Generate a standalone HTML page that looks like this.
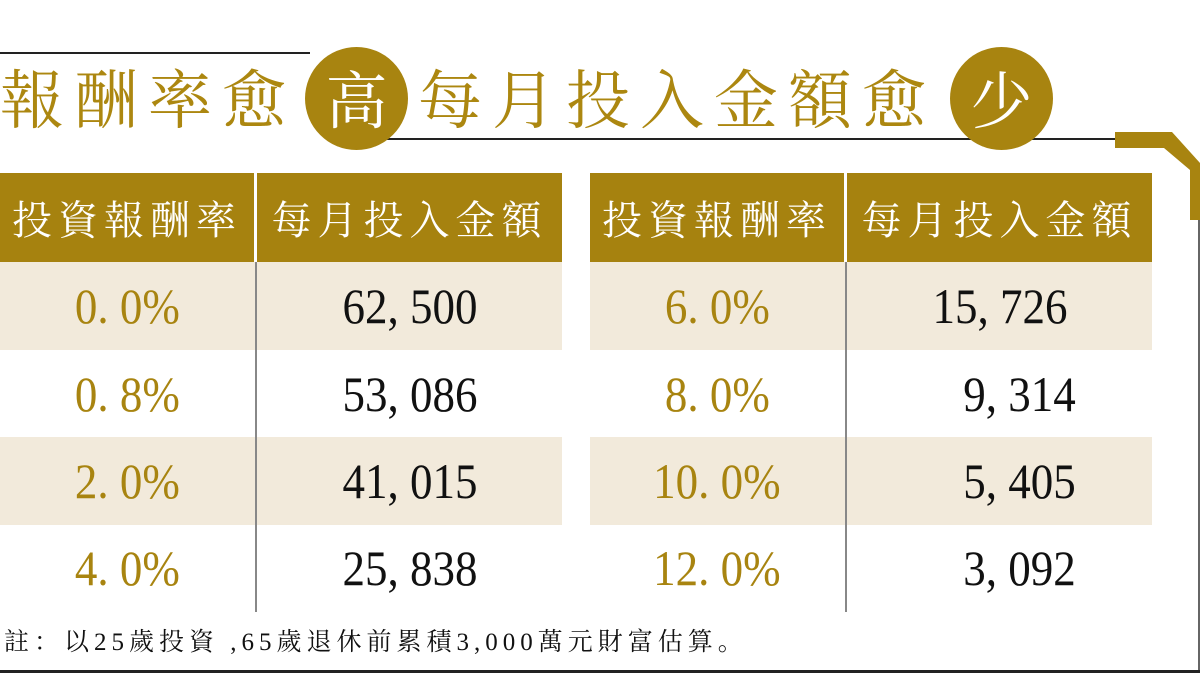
<!DOCTYPE html>
<html><head><meta charset="utf-8"><style>
body{margin:0;width:1200px;height:673px;background:#fff;position:relative;overflow:hidden;font-family:"Liberation Serif","Noto Serif CJK SC",serif}
.a{position:absolute}
.t{position:absolute;top:56px;font-family:"Noto Serif CJK SC",serif;font-size:64px;color:#ac8710;letter-spacing:10px;line-height:80px;white-space:nowrap}
.c{position:absolute;width:103px;height:103px;border-radius:50%;background:#a88410;color:#fff;font-family:"Noto Serif CJK SC",serif;font-size:62px;text-align:center;line-height:100px;top:47px}
.hd{position:absolute;top:173px;height:89px;background:#a6820f;color:#fff;font-family:"Noto Serif CJK SC",serif;font-size:40px;line-height:89px;text-align:center;letter-spacing:6px}
.row{position:absolute;height:88px}
.beige{background:#f2eadb}
.p,.n{position:absolute;height:88px;line-height:88px;text-align:center;font-size:50px;white-space:nowrap}
.p{color:#a88410}
.n{color:#111}
.p span,.n span{display:inline-block;transform:scaleX(0.9)}
.v{position:absolute;width:2px;background:#888;top:262px;height:350px}
</style></head><body>
<div class="a" style="left:0;top:52px;width:310px;height:2px;background:#222"></div>
<div class="a" style="left:340px;top:138px;width:778px;height:2px;background:#222"></div>
<div class="a" style="left:1115px;top:132px;width:50px;height:16px;background:#a88410"></div>
<svg class="a" style="left:1150px;top:125px" width="50" height="100"><polygon points="10,7 22,7 50,38 50,95 40,95 40,45 14,23" fill="#a88410"/></svg>
<div class="a" style="left:1198px;top:220px;width:2px;height:453px;background:#666"></div>
<div class="t" style="left:0px">報酬率愈</div>
<div class="c" style="left:305px">高</div>
<div class="t" style="left:418px">每月投入金額愈</div>
<div class="c" style="left:950px">少</div>

<div class="hd" style="left:0;width:254px">投資報酬率</div>
<div class="hd" style="left:257px;width:305px">每月投入金額</div>
<div class="hd" style="left:590px;width:254px">投資報酬率</div>
<div class="hd" style="left:847px;width:305px">每月投入金額</div>

<div class="row beige" style="left:0;top:262px;width:562px"></div>
<div class="row beige" style="left:0;top:437px;width:562px"></div>
<div class="row beige" style="left:590px;top:262px;width:562px"></div>
<div class="row beige" style="left:590px;top:437px;width:562px"></div>
<div class="v" style="left:255px"></div>
<div class="v" style="left:845px"></div>

<div class="p" style="left:0;width:254px;top:262px"><span>0. 0%</span></div>
<div class="p" style="left:0;width:254px;top:350px"><span>0. 8%</span></div>
<div class="p" style="left:0;width:254px;top:437px"><span>2. 0%</span></div>
<div class="p" style="left:0;width:254px;top:524px"><span>4. 0%</span></div>
<div class="n" style="left:257px;width:305px;top:262px"><span>62, 500</span></div>
<div class="n" style="left:257px;width:305px;top:350px"><span>53, 086</span></div>
<div class="n" style="left:257px;width:305px;top:437px"><span>41, 015</span></div>
<div class="n" style="left:257px;width:305px;top:524px"><span>25, 838</span></div>

<div class="p" style="left:590px;width:254px;top:262px"><span>6. 0%</span></div>
<div class="p" style="left:590px;width:254px;top:350px"><span>8. 0%</span></div>
<div class="p" style="left:590px;width:254px;top:437px"><span>10. 0%</span></div>
<div class="p" style="left:590px;width:254px;top:524px"><span>12. 0%</span></div>
<div class="n" style="left:847px;width:305px;top:262px"><span>15, 726</span></div>
<div class="n" style="left:867px;width:305px;top:350px"><span>9, 314</span></div>
<div class="n" style="left:867px;width:305px;top:437px"><span>5, 405</span></div>
<div class="n" style="left:867px;width:305px;top:524px"><span>3, 092</span></div>

<div class="a" style="left:4px;top:622px;font-size:25px;letter-spacing:5px;color:#111;white-space:nowrap;font-family:'Liberation Serif','Noto Serif CJK SC',serif">註：以25歲投資 ,65歲退休前累積3,000萬元財富估算。</div>
<div class="a" style="left:0;top:670px;width:1200px;height:3px;background:#222"></div>
</body></html>
